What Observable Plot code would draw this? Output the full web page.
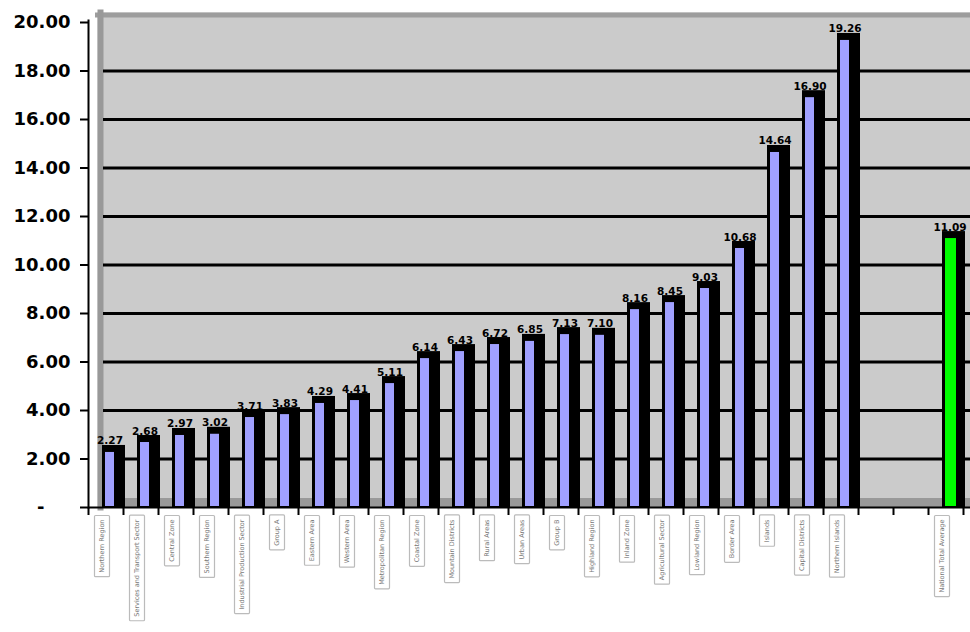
<!DOCTYPE html>
<html><head><meta charset="utf-8">
<script src="https://cdn.jsdelivr.net/npm/d3@7"></script>
<script src="https://cdn.jsdelivr.net/npm/@observablehq/plot@0.6"></script>
<style>body{margin:0;background:#fff;overflow:hidden}</style>
</head><body><div id="chart"></div>
<script>
const categories = [
  "Northern Region", "Services and Transport Sector", "Central Zone", "Southern Region",
  "Industrial Production Sector", "Group A", "Eastern Area", "Western Area",
  "Metropolitan Region", "Coastal Zone", "Mountain Districts", "Rural Areas",
  "Urban Areas", "Group B", "Highland Region", "Inland Zone",
  "Agricultural Sector", "Lowland Region", "Border Area", "Islands",
  "Capital Districts", "Northern Islands"
];
const values = [2.27, 2.68, 2.97, 3.02, 3.71, 3.83, 4.29, 4.41, 5.11, 6.14, 6.43, 6.72,
  6.85, 7.13, 7.10, 8.16, 8.45, 9.03, 10.68, 14.64, 16.90, 19.26];
const gapSlots = ["gap-1", "gap-2"];
const totalCategory = "National Total Average";
const totalValue = 11.09;
const yTicks = [2, 4, 6, 8, 10, 12, 14, 16, 18, 20];

const items = categories.map((c, i) => ({cat: c, value: values[i]}));
const total = [{cat: totalCategory, value: totalValue}];
const all = items.concat(total);
const domain = [...categories, ...gapSlots, totalCategory];

const chart = Plot.plot({
  width: 970,
  height: 632,
  marginLeft: 97,
  marginRight: 0,
  marginTop: 12,
  marginBottom: 125,
  style: {fontFamily: "DejaVu Sans, sans-serif", background: "white", overflow: "hidden"},
  x: {domain, range: [88, 963], padding: 0, label: null},
  y: {domain: [0, 20], range: [507, 22], label: null},
  marks: [
    Plot.frame({fill: "#cbcbcb", stroke: null}),
    Plot.frame({anchor: "top", stroke: "#9d9d9d", strokeWidth: 5, dy: 2.5}),
    Plot.frame({anchor: "left", stroke: "#999", strokeWidth: 6, dx: 3}),
    Plot.ruleY(yTicks.filter(v => v < 20), {stroke: "black", strokeWidth: 3, insetLeft: 6}),
    Plot.ruleY([0], {stroke: "#999", strokeWidth: 9, dy: -5, insetLeft: 6}),
    Plot.barY(all, {x: "cat", y: "value", fill: "black", insetLeft: 14, insetRight: -2, insetTop: -7}),
    Plot.barY(items, {x: "cat", y: "value", fill: "#a0a0ff", insetLeft: 17, insetRight: 9, insetBottom: 1}),
    Plot.barY(total, {x: "cat", y: "value", fill: "#00ff00", insetLeft: 17, insetRight: 7, insetBottom: 1}),
    Plot.ruleY([0], {stroke: "black", strokeWidth: 2, insetLeft: -9}),
    Plot.frame({anchor: "left", stroke: "black", strokeWidth: 2, dx: -9, insetTop: 8}),
    Plot.axisY({ticks: yTicks, tickSize: 8, tickPadding: 10, strokeWidth: 2, dx: -9, label: null,
      tickFormat: d => d.toFixed(2), fontSize: 18, fontWeight: "bold", fill: "black"}),
    Plot.axisY({ticks: [0], tickSize: 8, tickPadding: 36, strokeWidth: 2, dx: -9, label: null,
      tickFormat: () => "-", fontSize: 18, fontWeight: "bold", fill: "black"}),
    Plot.axisX({tickSize: 8, strokeWidth: 2, dx: 17.5, label: null, tickFormat: () => ""}),
    Plot.axisX({ticks: [categories[0]], tickSize: 8, strokeWidth: 2, dx: -17.5, label: null, tickFormat: () => ""}),
    Plot.text(all, {x: "cat", y: "value", text: d => d.value.toFixed(2), dx: 4, dy: -8,
      lineAnchor: "bottom", fontWeight: "bold", fontSize: 10.5, fill: "black"}),
    Plot.text(all, {x: "cat", frameAnchor: "bottom", text: "cat", rotate: -90, textAnchor: "end",
      dy: 12, dx: -2, fontSize: 6.5, fill: "#777", className: "xlab"})
  ]
});
document.getElementById("chart").appendChild(chart);

// outlined boxes around the category labels, as in the reference
const svgBox = chart.getBoundingClientRect();
const labelGroup = chart.querySelector("g.xlab") || chart.querySelector(".xlab");
if (labelGroup) {
  const boxes = document.createElementNS("http://www.w3.org/2000/svg", "g");
  labelGroup.parentNode.insertBefore(boxes, labelGroup);
  labelGroup.querySelectorAll("text").forEach(t => {
    const r = t.getBoundingClientRect();
    const cx = r.left - svgBox.left + r.width / 2;
    const top = r.top - svgBox.top;
    const rect = document.createElementNS("http://www.w3.org/2000/svg", "rect");
    rect.setAttribute("x", cx - 7.5);
    rect.setAttribute("y", top - 4);
    rect.setAttribute("width", 15);
    rect.setAttribute("height", r.height + 8);
    rect.setAttribute("fill", "white");
    rect.setAttribute("stroke", "#bbb");
    rect.setAttribute("stroke-width", 1.2);
    rect.setAttribute("rx", 1);
    boxes.appendChild(rect);
  });
}
</script>
</body></html>
